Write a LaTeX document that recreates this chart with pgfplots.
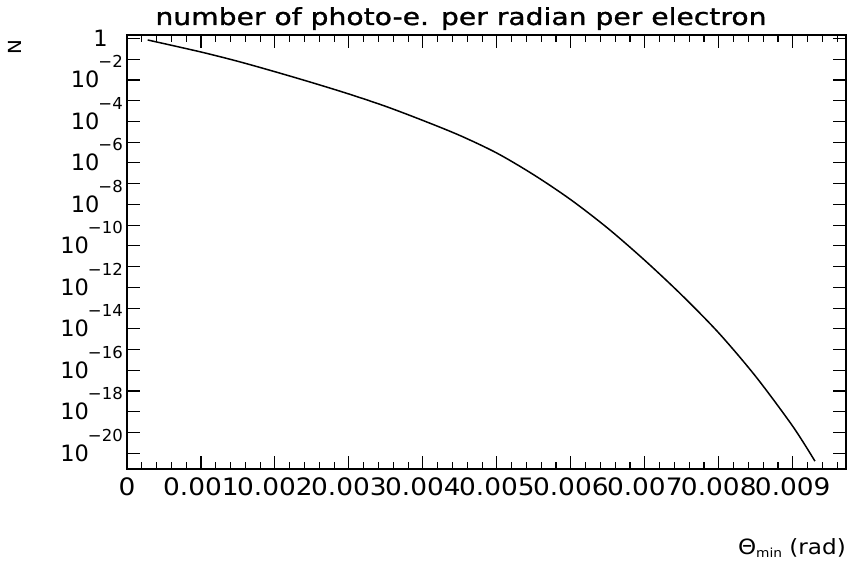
\documentclass[border=0pt]{standalone}
\usepackage{fontspec}
\setmainfont[FakeStretch=1.1]{DejaVu Sans}
\newfontfamily\titlefont[FakeStretch=1.2,FakeBold=1.2]{DejaVu Sans}
\newfontfamily\yfont{DejaVu Sans}
\usepackage{pgfplots}
\pgfplotsset{compat=1.18}
\newcommand{\lab}[1]{10\hspace{-1pt}\raisebox{20pt}{\fontsize{16.5}{16.5}\selectfont −#1}}
\begin{document}
\begin{tikzpicture}
\useasboundingbox (0,0) rectangle (851pt,564pt);
\begin{axis}[
  at={(127pt,95pt)}, anchor=south west,
  scale only axis, width=719pt, height=434pt,
  ymode=log,
  xmin=0, xmax=0.00972, ymin=1.74e-21, ymax=1.48,
  scaled x ticks=false,
  xtick={0,0.001,0.002,0.003,0.004,0.005,0.006,0.007,0.008,0.009},
  xticklabels={0,0.001,0.002,0.003,0.004,0.005,0.006,0.007,0.008,0.009},
  minor xtick={0.0002,0.0004,0.0006,0.0008,0.0012,0.0014,0.0016,0.0018,0.0022,0.0024,0.0026,0.0028,0.0032,0.0034,0.0036,0.0038,0.0042,0.0044,0.0046,0.0048,0.0052,0.0054,0.0056,0.0058,0.0062,0.0064,0.0066,0.0068,0.0072,0.0074,0.0076,0.0078,0.0082,0.0084,0.0086,0.0088,0.0092,0.0094,0.0096},
  ytick={1,1e-1,1e-2,1e-3,1e-4,1e-5,1e-6,1e-7,1e-8,1e-9,1e-10,1e-11,1e-12,1e-13,1e-14,1e-15,1e-16,1e-17,1e-18,1e-19,1e-20},
  yticklabels={1\rule{15pt}{0pt},,\lab{2},,\lab{4},,\lab{6},,\lab{8},,\lab{10},,\lab{12},,\lab{14},,\lab{16},,\lab{18},,\lab{20}},
  yminorticks=false,
  xtick pos=both, ytick pos=both,
  tick align=inside,
  major tick length=13pt, minor tick length=7pt,
  axis line style={line width=1.6pt},
  every tick/.style={black, line width=1.1pt},
  tick label style={font=\fontsize{24}{24}\selectfont, inner sep=0pt},
  xticklabel style={anchor=north, yshift=-8pt},
  yticklabel style={anchor=base east, xshift=-4pt, yshift=-8pt, font=\yfont\fontsize{22.5}{22.5}\selectfont},
  title={number of photo-e. per radian per electron},
  title style={at={(axis description cs:0.4645,1)}, anchor=base, yshift=4pt, inner sep=0pt, font=\titlefont\fontsize{23.5}{23.5}\selectfont},
  xlabel={Θ\raisebox{-3pt}{\fontsize{12.5}{12.5}\selectfont min} (rad)},
  xlabel style={at={(axis description cs:1,-0.198)}, anchor=base east, inner sep=0pt, font=\fontsize{21}{21}\selectfont},
  ylabel={N},
  ylabel style={at={(axis description cs:-0.1558,0.972)}, anchor=center, inner sep=0pt, font=\fontsize{18}{18}\selectfont},
]
\addplot[black, line width=1.5pt, smooth, tension=0.5] coordinates {
(0.00028,0.851)
(0.0010,0.224)
(0.0015,0.0794)
(0.0020,0.0251)
(0.0025,7.50e-3)
(0.0030,2.11e-3)
(0.0035,5.31e-4)
(0.0040,1.12e-4)
(0.0045,2.11e-5)
(0.0050,2.99e-6)
(0.0055,2.66e-7)
(0.0060,1.68e-8)
(0.0065,7.08e-10)
(0.0070,2.00e-11)
(0.0075,4.22e-13)
(0.0080,6.31e-15)
(0.0085,5.01e-17)
(0.0090,2.00e-19)
(0.0093,4.17e-21)
};
\end{axis}
\end{tikzpicture}
\end{document}
